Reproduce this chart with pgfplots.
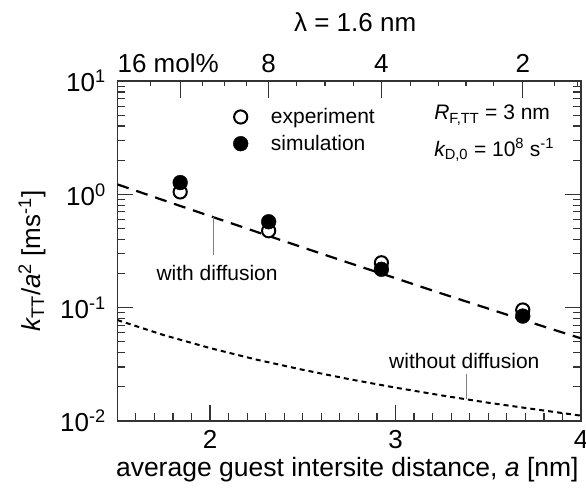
\documentclass[border=0pt]{standalone}
\usepackage{fontspec}
\setmainfont{Liberation Sans}
\usepackage{pgfplots}
\pgfplotsset{compat=1.18}
\definecolor{axgray}{HTML}{333333}
\begin{document}
\begin{tikzpicture}
\begin{axis}[
  name=main,
  scale only axis, width=463.7pt, height=340pt,
  xmin=1.5, xmax=4, ymode=log, ymin=1e-2, ymax=1e1,
  axis line style={axgray, line width=1.5pt},
  xtick={2,3,4}, xticklabels={2,3,4},
  minor xtick={1.6,1.7,1.8,1.9,2.1,2.2,2.3,2.4,2.5,2.6,2.7,2.8,2.9,3.1,3.2,3.3,3.4,3.5,3.6,3.7,3.8,3.9},
  xtick pos=bottom, ytick pos=both,
  ytick={0.01,0.1,1,10},
  yticklabels={10\textsuperscript{-2},10\textsuperscript{-1},10\textsuperscript{0},10\textsuperscript{1}},
  minor ytick={0.02,0.03,0.04,0.05,0.06,0.07,0.08,0.09,0.2,0.3,0.4,0.5,0.6,0.7,0.8,0.9,2,3,4,5,6,7,8,9},
  tick align=inside,
  major tick length=16pt, minor tick length=8pt,
  every tick/.style={axgray, line width=1.2pt},
  ticklabel style={font=\fontsize{26}{26}\selectfont},
  xticklabel style={yshift=-6pt},
  yticklabel style={xshift=-8pt},
  xlabel={average guest intersite distance, {\itshape a} [nm]},
  xlabel style={font=\fontsize{26.5}{27}\selectfont, at={(axis description cs:0.496,-0.143)}, anchor=center},
  ylabel={{\itshape k}\textsubscript{TT}/{\itshape a}\textsuperscript{2} [ms\textsuperscript{-1}]},
  ylabel style={font=\fontsize{26}{26}\selectfont, at={(axis description cs:-0.184,0.47)}, anchor=center},
  legend style={at={(axis cs:2.12,5.73)}, anchor=north west, draw=none, fill=none,
    font=\fontsize{21}{21}\selectfont, row sep=10pt, inner sep=0pt, nodes={inner sep=0pt}},
  legend cell align=left,
  legend image code/.code={\draw[#1] plot coordinates {(0pt,0pt)}; \path (-8pt,-8pt) (30pt,8pt);},
]
\coordinate (bl) at (rel axis cs:0,0);
\coordinate (tr) at (rel axis cs:1,1);
% with diffusion (dashed)
\addplot[forget plot, black, line width=2.2pt, dash pattern=on 12pt off 8pt] coordinates {
 (1.5,1.225) (1.75,0.886) (2.0,0.643) (2.25,0.467) (2.5,0.340) (2.75,0.248)
 (3.0,0.182) (3.25,0.133) (3.5,0.0981) (3.75,0.0723) (4.0,0.0536)};
% without diffusion (dotted)
\addplot[forget plot, black, line width=2pt, dash pattern=on 5pt off 4pt] coordinates {
 (1.5,0.0778) (1.75,0.0573) (2.0,0.0440) (2.25,0.0348) (2.5,0.0283) (2.75,0.0234)
 (3.0,0.0197) (3.25,0.0168) (3.5,0.0145) (3.75,0.0127) (4.0,0.01115)};
% leader lines
\addplot[forget plot, gray, line width=0.8pt] coordinates {(2.016,0.63) (2.016,0.291)};
\addplot[forget plot, gray, line width=0.8pt] coordinates {(3.38,0.0261) (3.38,0.0156)};
% data
\addplot[only marks, mark=*, mark size=6.6pt, mark options={fill=white, draw=black, line width=2pt}] coordinates {
 (1.839,1.05) (2.316,0.477) (2.924,0.249) (3.686,0.0954)};
\addlegendentry{experiment}
\addplot[only marks, mark=*, mark size=7.4pt, mark options={fill=black, draw=black}] coordinates {
 (1.839,1.27) (2.316,0.573) (2.924,0.218) (3.686,0.0843)};
\addlegendentry{simulation}
% annotations
\node[font=\fontsize{21}{21}\selectfont, anchor=center] at (axis cs:2.038,0.201) {with diffusion};
\node[font=\fontsize{21}{21}\selectfont, anchor=center] at (axis cs:3.371,0.0341) {without diffusion};
\node[font=\fontsize{21}{21}\selectfont, anchor=west] at (axis cs:3.19,5.0) {{\itshape R}\textsubscript{F,TT} = 3 nm};
\node[font=\fontsize{21}{21}\selectfont, anchor=west] at (axis cs:3.19,2.46) {{\itshape k}\textsubscript{D,0} = 10\textsuperscript{8} s\textsuperscript{-1}};
\end{axis}
\begin{axis}[
  scale only axis, width=463.7pt, height=340pt,
  xmin=1.5, xmax=4, ymin=0, ymax=1,
  axis x line*=top, axis y line=none,
  axis line style={axgray, line width=1.5pt},
  xtick={1.839,2.316,2.924,3.686},
  xticklabels={16 mol\%\hspace*{24pt},8,4,2},
  minor xtick={1.677,1.958,2.077,2.197,2.468,2.620,2.772,3.08,3.23,3.38,3.53,3.855,3.98},
  tick align=inside,
  major tick length=17pt, minor tick length=5pt,
  every tick/.style={axgray, line width=1.2pt},
  ticklabel style={font=\fontsize{26}{26}\selectfont},
  xticklabel style={yshift=5pt},
  title={λ = 1.6 nm},
  title style={font=\fontsize{26}{26}\selectfont, at={(axis description cs:0.513,1)}, anchor=center, yshift=53pt},
]
\addplot[draw=none] coordinates {(2,0.5)};
\end{axis}
\pgfresetboundingbox
\path[use as bounding box] ([xshift=-117.3pt,yshift=-79pt]bl) rectangle ([xshift=5pt,yshift=81pt]tr);
\end{tikzpicture}
\end{document}
